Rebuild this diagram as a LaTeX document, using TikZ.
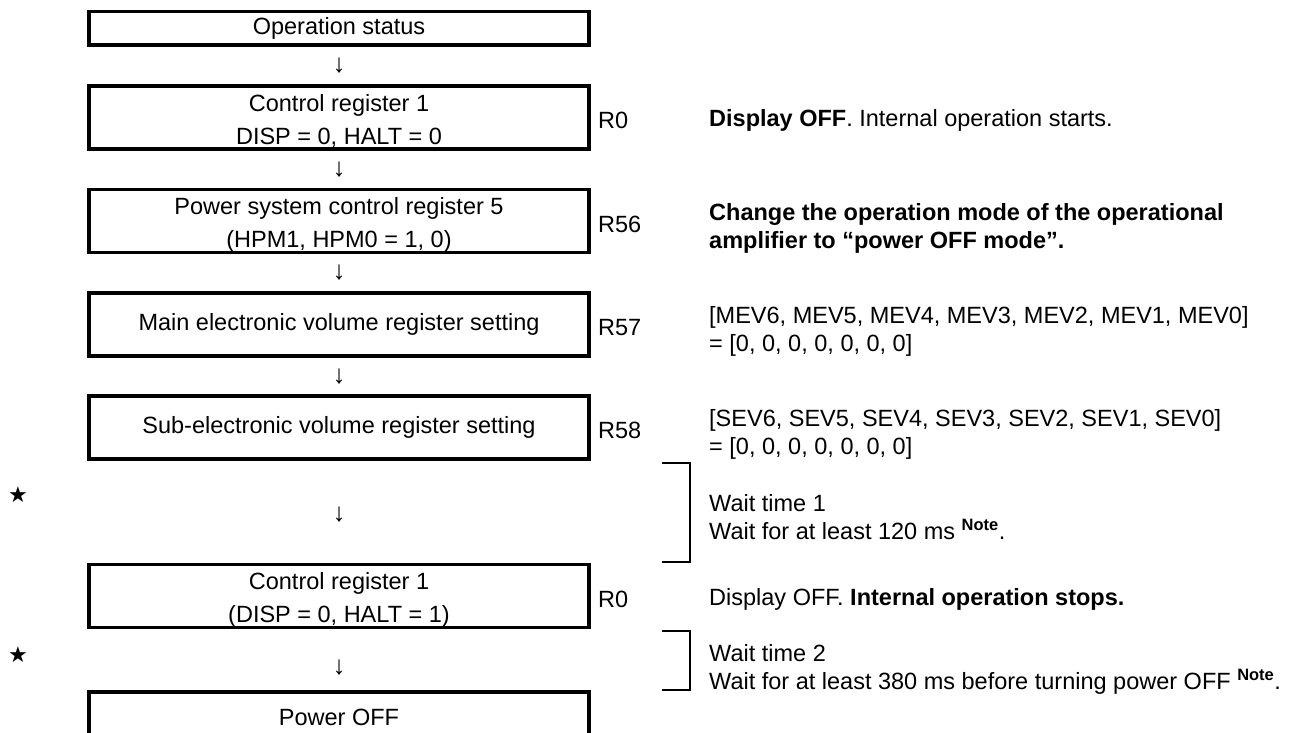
\documentclass[tikz,border=0pt]{standalone}
\usepackage{fontspec}
\setmainfont{Liberation Sans}
\newfontfamily\symfont{DejaVu Sans}
\usetikzlibrary{positioning}
\newcommand{\flowsize}{\fontsize{23.5}{33}\selectfont}
\newcommand{\sidesize}{\fontsize{23.5}{28}\selectfont}
\newcommand{\notemark}{\textsuperscript{\bfseries Note}}

\begin{document}
\begin{tikzpicture}[
    x=1pt, y=-1pt,
    box/.style={draw, line width=3.5pt, minimum width=500pt, minimum height=63pt, align=center, inner sep=0pt, font=\flowsize},
    boxtext/.style={align=center, inner sep=0pt, font=\flowsize},
    reg/.style={anchor=west, inner sep=0pt, font=\sidesize},
    note/.style={anchor=west, align=left, inner sep=0pt, font=\sidesize},
    down/.style={inner sep=0pt, font=\fontsize{26}{30}\selectfont},
    star/.style={inner sep=0pt, font=\fontsize{22}{26}\symfont},
    bracket/.style={line width=2.5pt}
]
\useasboundingbox (0,0) rectangle (1290,733);

% Operation status
\node[box, minimum height=33.5pt] (opstat) at (339,28.5) {Operation status};
\node[down] (d1) at (339,66) {↓};

% Control register 1, display off
\node[box] (ctrl1) at (339,117.5) {};
\node[boxtext] (ctrl1t) at ([yshift=-3.5pt]ctrl1.center) {Control register 1\\DISP = 0, HALT = 0};
\node[reg] (r0a) at (598,120.5) {R0};
\node[note] (t0a) at (709,120.5) {\textbf{Display OFF}. Internal operation starts.};
\node[down] (d2) at (339,169.5) {↓};

% Power system control register 5
\node[box] (pwr5) at (339,221) {};
\node[boxtext] (pwr5t) at ([yshift=-3.5pt]pwr5.center) {Power system control register 5\\(HPM1, HPM0 = 1, 0)};
\node[reg] (r56) at (598,224) {R56};
\node[note, font=\sidesize\bfseries] (t56) at (709,228) {Change the operation mode of the operational\\amplifier to “power OFF mode”.};
\node[down] (d3) at (339,273) {↓};

% Main electronic volume
\node[box] (mainev) at (339,324.5) {Main electronic volume register setting};
\node[reg] (r57) at (598,327.5) {R57};
\node[note] (t57) at (709,331.5) {[MEV6, MEV5, MEV4, MEV3, MEV2, MEV1, MEV0]\\= [0, 0, 0, 0, 0, 0, 0]};
\node[down] (d4) at (339,376.5) {↓};

% Sub-electronic volume
\node[box] (subev) at (339,427.5) {Sub-electronic volume register setting};
\node[reg] (r58) at (598,430.5) {R58};
\node[note] (t58) at (709,434.5) {[SEV6, SEV5, SEV4, SEV3, SEV2, SEV1, SEV0]\\= [0, 0, 0, 0, 0, 0, 0]};

% Wait time 1
\node[star] (star1) at (18,495) {★};
\node[down] (d5) at (339,515) {↓};
\node[note] (wait1) at (709,517) {Wait time 1\\Wait for at least 120 ms \notemark.};
\draw[bracket] (662,463) -- (690,463) -- (690,562) -- (662,562);

% Control register 1, halt
\node[box] (ctrl1b) at (339,596) {};
\node[boxtext] (ctrl1bt) at ([yshift=-3.5pt]ctrl1b.center) {Control register 1\\(DISP = 0, HALT = 1)};
\node[reg] (r0b) at (598,599) {R0};
\node[note] (t0b) at (709,599) {Display OFF. \textbf{Internal operation stops.}};

% Wait time 2
\node[star] (star2) at (18,655) {★};
\node[down] (d6) at (339,668) {↓};
\node[note] (wait2) at (709,669) {Wait time 2\\Wait for at least 380 ms before turning power OFF \notemark.};
\draw[bracket] (662,631) -- (690,631) -- (690,690) -- (662,690);

% Power OFF
\node[box] (poff) at (339,723.5) {};
\node[boxtext] (pofft) at ([yshift=6pt]poff.center) {Power OFF};
\end{tikzpicture}
\end{document}
